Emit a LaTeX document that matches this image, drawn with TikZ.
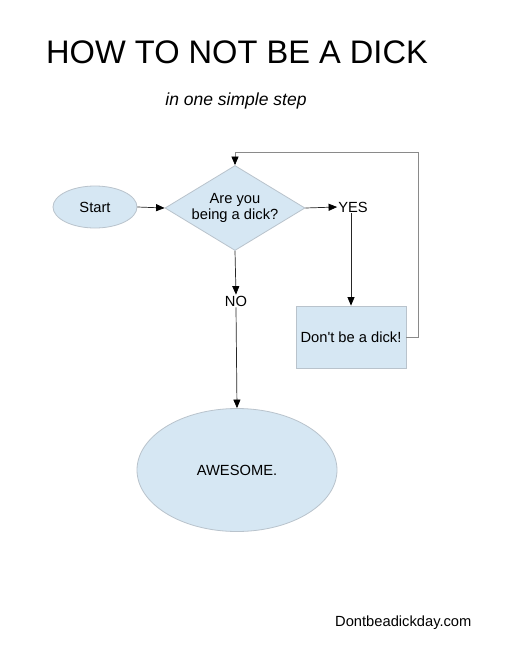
\documentclass[tikz,border=0pt]{standalone}
\usepackage{fontspec}
\setmainfont{Liberation Sans}[Ligatures=TeXOff]
\usetikzlibrary{shapes.geometric,arrows.meta}
\definecolor{shapefill}{HTML}{D6E7F3}
\definecolor{shapeline}{HTML}{B9C3CC}
\definecolor{loopline}{HTML}{8A8A8A}
\tikzset{
  base/.style={font=\fontsize{14.7}{16.5}\selectfont, text=black},
  oval/.style={base, ellipse, fill=shapefill, draw=shapeline, line width=0.8pt, inner sep=0pt},
  decision/.style={base, diamond, fill=shapefill, draw=shapeline, line width=0.8pt, inner sep=0pt, aspect=1.65, minimum width=140pt, minimum height=85pt, align=center},
  actbox/.style={base, rectangle, fill=shapefill, draw=shapeline, line width=0.8pt, inner sep=0pt, minimum width=110pt, minimum height=62pt},
  lbl/.style={base, inner sep=1pt},
  flow/.style={draw=black!85, line width=0.7pt, -{Triangle[length=8.5pt,width=7pt,color=black]}},
  loop/.style={draw=loopline, line width=0.7pt}
}
\begin{document}
\begin{tikzpicture}[x=1pt,y=-1pt]
\useasboundingbox (0,0) rectangle (510,659);
\fill[white] (0,0) rectangle (510,659);
\node[anchor=base west, inner sep=0pt, font=\fontsize{32.6}{36}\selectfont] (title) at (46,63) {HOW TO NOT BE A DICK};
\node[anchor=base, inner sep=0pt, font=\fontsize{17.5}{20}\selectfont\itshape] (sub) at (236,105) {in one simple step};
\node[oval, minimum width=84pt, minimum height=42pt] (start) at (95,207) {Start};
\node[decision] (q) at (235,208) {Are you\\being a dick?};
\node[lbl] (yes) at (353,207) {YES};
\node[actbox] (act) at (351,337) {Don't be a dick!};
\node[lbl] (no) at (236,301) {NO};
\node[oval, minimum width=200pt, minimum height=123pt] (awe) at (237,470) {AWESOME.};
\node[anchor=base west, inner sep=0pt, font=\fontsize{14.7}{16.5}\selectfont] (site) at (335,626) {Dontbeadickday.com};
\coordinate (c1) at (418,337);
\coordinate (c2) at (418,152);
\coordinate (c3) at (235,152);
\draw[flow] (start.east) -- (q.west);
\draw[flow] (q.east) -- (yes.west);
\draw[flow] (yes.south -| act.north) -- (act.north);
\draw[flow] (q.south) -- (no.north);
\draw[flow] (no.south) -- (awe.north);
\draw[loop] (act.east) -- (c1) -- (c2) -- (c3);
\draw[flow, draw=loopline] (c3) -- (q.north);
\end{tikzpicture}
\end{document}
